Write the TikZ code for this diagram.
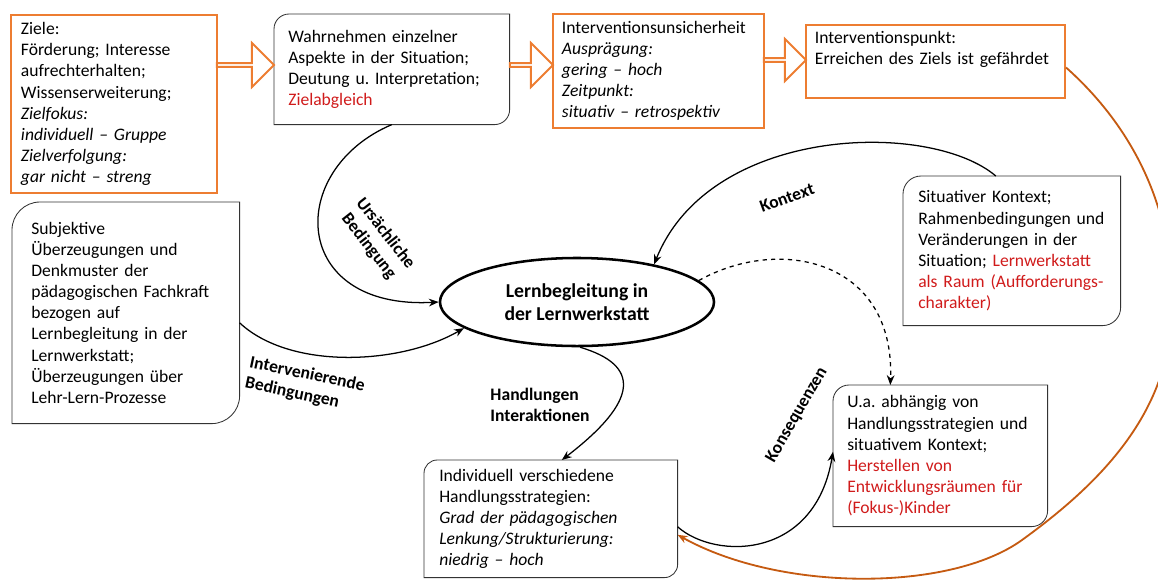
\documentclass[tikz,border=0pt]{standalone}
\usepackage{fontspec}
\setmainfont{Carlito}
\usepackage{xcolor}
\usepackage{tikz}
\usetikzlibrary{arrows.meta,positioning,shapes.geometric,shapes.arrows}
\definecolor{goal}{HTML}{ED7D31}
\definecolor{loopline}{HTML}{C55A11}
\definecolor{note}{HTML}{D01B1B}
\newcommand{\redtxt}[1]{\textcolor{note}{#1}}
\newcommand{\diagframe}[2]{%
  \draw[boxline] ([xshift=#2]#1.north west) -- (#1.north east) -- ([yshift=#2]#1.south east)
    arc[start angle=0,end angle=-90,radius=#2] -- (#1.south west) -- ([yshift=-#2]#1.north west)
    arc[start angle=180,end angle=90,radius=#2] -- cycle;}
\tikzset{
  txt/.style={font=\fontsize{12.5}{15}\selectfont,align=left,inner ysep=2pt,anchor=north west},
  goalbox/.style={txt,draw=goal,line width=1.4pt},
  boxline/.style={draw=black!80,line width=0.6pt},
  flow/.style={single arrow,draw=goal,line width=1.4pt,fill=white,inner sep=0pt,
    minimum width=1.1cm,single arrow head extend=0.275cm},
  lbl/.style={font=\fontsize{12.5}{15}\selectfont\bfseries,align=center},
  link/.style={-{Stealth[length=7pt,width=5.5pt]},line width=0.9pt},
}
\frenchspacing

\begin{document}
\begin{tikzpicture}[x=0.025cm,y=-0.025cm]
\useasboundingbox (0,0) rectangle (1158,581);
\node[goalbox,inner xsep=0.25cm,text width=4.65cm,minimum height=4.45cm] (ziele) at (10,14)
  {Ziele:\\Förderung; Interesse\\aufrechterhalten;\\Wissenserweiterung;\\\textit{Zielfokus:}\\
   \textit{individuell – Gruppe}\\\textit{Zielverfolgung:}\\\textit{gar nicht – streng}};
\node[txt,inner xsep=0.35cm,text width=5.175cm,minimum height=2.75cm] (wahr) at (274,14)
  {Wahrnehmen einzelner\\Aspekte in der Situation;\\Deutung u. Interpretation;\\\redtxt{Zielabgleich}};
\node[goalbox,inner xsep=0.225cm,text width=4.825cm,minimum height=2.85cm] (unsich) at (552,13)
  {Interventionsunsicherheit\\\textit{Ausprägung:}\\\textit{gering – hoch}\\\textit{Zeitpunkt:}\\
   \textit{situativ – retrospektiv}};
\node[goalbox,inner xsep=0.225cm,text width=6.025cm,minimum height=1.825cm] (punkt) at (805,24)
  {Interventionspunkt:\\Erreichen des Ziels ist gefährdet\\\strut};
\node[txt,inner xsep=0.475cm,text width=4.725cm,minimum height=5.525cm] (subj) at (12,202)
  {Subjektive\\Überzeugungen und\\Denkmuster der\\pädagogischen Fachkraft\\bezogen auf\\
   Lernbegleitung in der\\Lernwerkstatt;\\Überzeugungen über\\Lehr-Lern-Prozesse};
\node[txt,inner xsep=0.375cm,text width=4.675cm,minimum height=3.725cm] (sit) at (903,176)
  {Situativer Kontext;\\Rahmenbedingungen und\\Veränderungen in der\\Situation; \redtxt{Lernwerkstatt}\\
   \redtxt{als Raum (Aufforderungs-}\\\redtxt{charakter)}};
\node[txt,inner xsep=0.35cm,text width=4.65cm,minimum height=3.525cm] (kons) at (833,385)
  {U.a. abhängig von\\Handlungsstrategien und\\situativem Kontext;\\\redtxt{Herstellen von}\\
   \redtxt{Entwicklungsräumen für}\\\redtxt{(Fokus-)Kinder}};
\node[txt,inner xsep=0.375cm,text width=5.575cm,minimum height=2.925cm] (ind) at (424,460)
  {Individuell verschiedene\\Handlungsstrategien:\\\textit{Grad der pädagogischen}\\
   \textit{Lenkung/Strukturierung:}\\\textit{niedrig – hoch}};
\diagframe{wahr}{0.375cm}
\diagframe{subj}{0.7cm}
\diagframe{sit}{0.45cm}
\diagframe{kons}{0.4cm}
\diagframe{ind}{0.33cm}
\node[flow,minimum height=1.425cm] (f1) at (244.5,65) {};
\node[flow,minimum height=1.075cm] (f2) at (530.5,65) {};
\node[flow,minimum height=1.05cm,minimum width=1.05cm,single arrow head extend=0.2625cm] (f3) at (784,60) {};
\node[ellipse,draw,line width=1.8pt,minimum width=6.85cm,minimum height=2.2cm,align=center,
  font=\fontsize{14}{16.5}\selectfont\bfseries] (core) at (577,302) {Lernbegleitung in\\der Lernwerkstatt};
\draw[link] (wahr.south) .. controls (285,170) and (290,310) .. (core.west);
\draw[link] ([yshift=-0.25cm]subj.east) .. controls (290,370) and (400,365) .. (core.193);
\draw[link] ([xshift=-0.4cm]sit.north) .. controls (930,120) and (710,125) .. (core.26);
\draw[link,dashed] (core.10) .. controls (780,235) and (895,260) .. ([xshift=-1.25cm]kons.north);
\draw[link] (core.-86) .. controls (640,365) and (640,400) .. ([xshift=0.275cm]ind.north);
\draw[link] ([yshift=-0.2cm]ind.east) .. controls (715,560) and (815,560) .. ([yshift=0.1cm]kons.west);
\draw[link,loopline,line width=1.3pt] ([yshift=-0.15cm]punkt.east) .. controls (1125,120) and (1175,200) .. (1172,310)
  .. controls (1170,410) and (1105,480) .. (1022,540) .. controls (950,592) and (780,592) .. ([yshift=-0.4cm]ind.east);
\node[lbl,rotate=-52] (lcause) at (377,240) {Ursächliche\\Bedingung};
\node[lbl,rotate=-12,align=left] (linter) at (305,385) {Intervenierende\\Bedingungen};
\node[lbl,rotate=20] (lctx) at (787,198) {Kontext};
\node[lbl,align=left] (lact) at (540,405) {Handlungen\\Interaktionen};
\node[lbl,rotate=60] (lcons) at (797,415) {Konsequenzen};
\end{tikzpicture}
\end{document}
